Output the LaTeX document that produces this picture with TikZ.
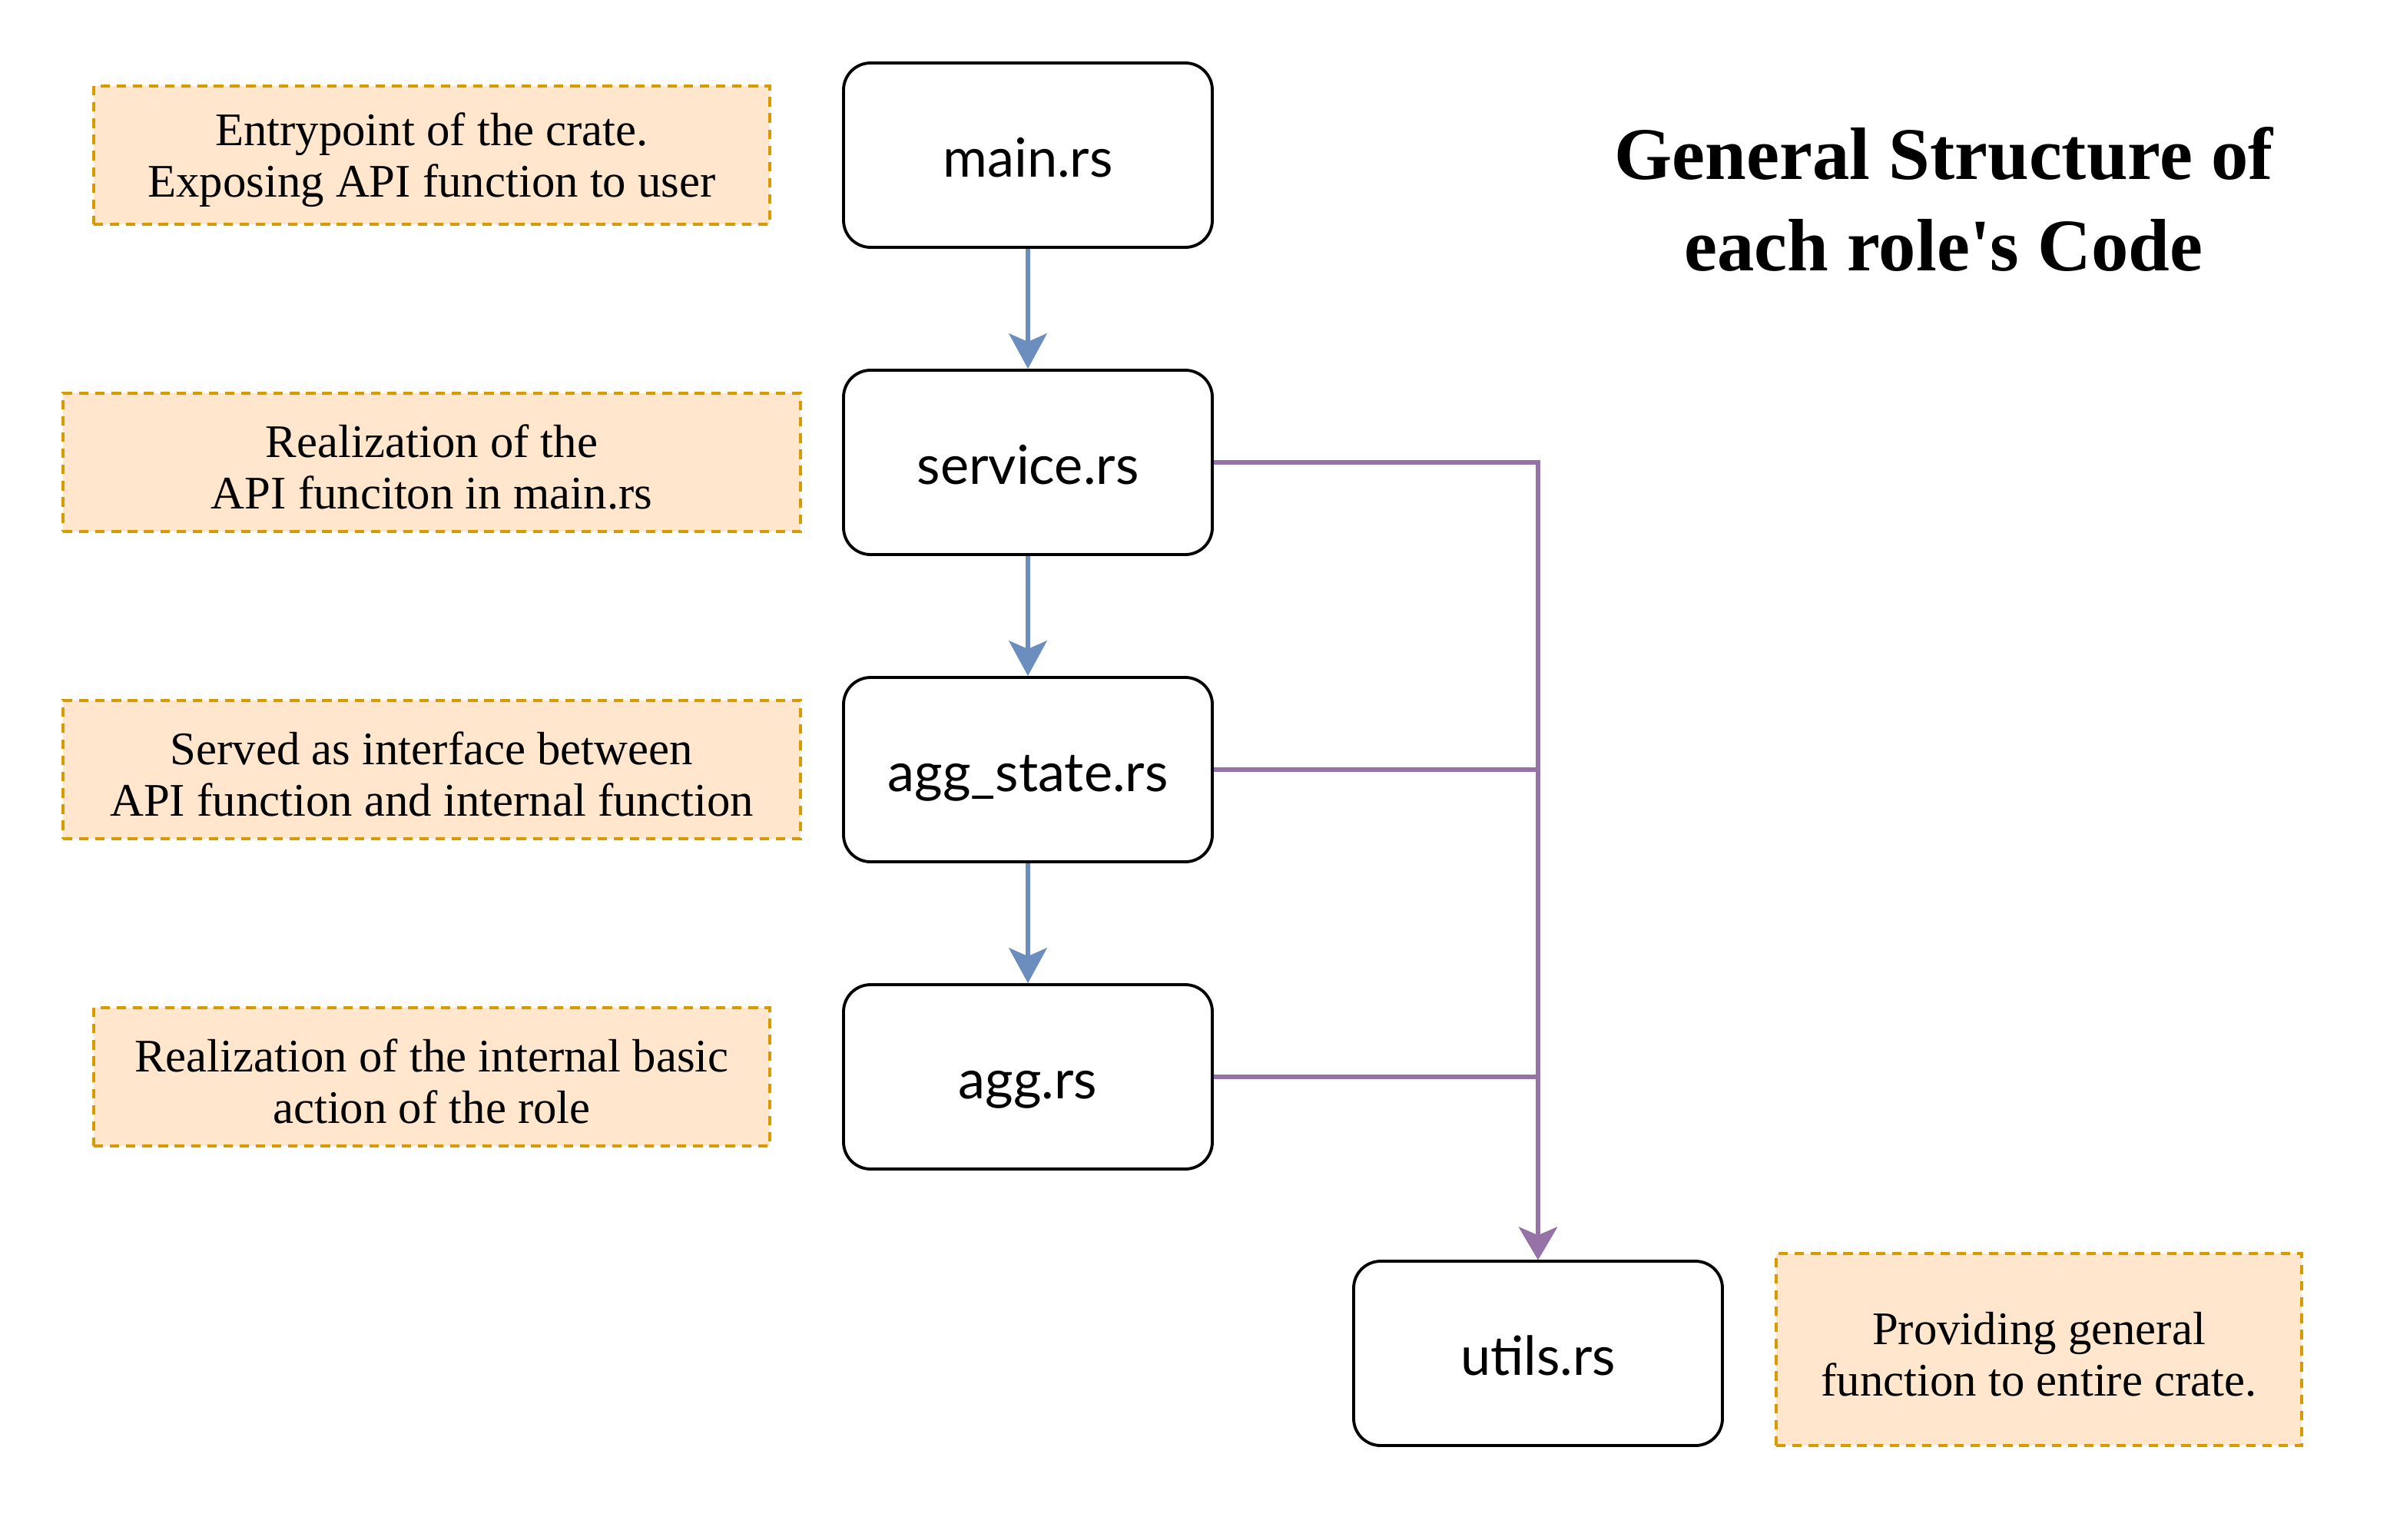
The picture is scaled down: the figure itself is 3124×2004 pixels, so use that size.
\documentclass[tikz,border=0pt]{standalone}
\usepackage{fontspec}
\setmainfont{Liberation Serif}
\newfontfamily\boxfont{Lato}
\usetikzlibrary{arrows.meta}
\newlength\pxu \setlength\pxu{0.2mm}
\newcommand\notestrut{\rule{0pt}{31pt}}
\definecolor{notefill}{HTML}{FFE6CC}
\definecolor{noteline}{HTML}{D79B00}
\definecolor{blueline}{HTML}{6C8EBF}
\definecolor{purpleline}{HTML}{9673A6}
\begin{document}
\begin{tikzpicture}[x=0.2mm,y=-0.2mm,
  filebox/.style={draw=black, line width=2.2pt, rounded corners=20pt, fill=white,
    minimum width=480\pxu, minimum height=240\pxu, inner sep=0pt,
    text height=40pt, text depth=8pt,
    font=\boxfont\fontsize{40}{44}\selectfont},
  note/.style={draw=noteline, fill=notefill, line width=1.8pt, dash pattern=on 7pt off 5pt,
    minimum height=180\pxu, inner sep=0pt, align=center,
    font=\fontsize{34.6}{38}\selectfont},
  flow/.style={draw=blueline, line width=3.8pt, -{Stealth[length=26pt,width=28pt,inset=6pt]}},
  util/.style={draw=purpleline, line width=3.4pt, -{Stealth[length=24pt,width=28pt,inset=6pt]}},
  titletext/.style={font=\bfseries\fontsize{55}{70}\selectfont, anchor=base, inner sep=0pt}
]
\useasboundingbox[fill=white] (0,0) rectangle (3124,2004);

% file nodes
\node[filebox] (main) at (1338,202) {main.rs};
\node[filebox] (service) at (1338,602) {service.rs};
\node[filebox] (aggstate) at (1338,1002) {agg\_state.rs};
\node[filebox] (agg) at (1338,1402) {agg.rs};
\node[filebox] (utils) at (2002,1762) {utils.rs};

% notes
\node[note, minimum width=880\pxu] (n1) at (562,202) {\notestrut Entrypoint of the crate.\\Exposing API function to user};
\node[note, minimum width=960\pxu] (n2) at (562,602) {\notestrut Realization of the\\API funciton in main.rs};
\node[note, minimum width=960\pxu] (n3) at (562,1002) {\notestrut Served as interface between\\API function and internal function};
\node[note, minimum width=880\pxu] (n4) at (562,1402) {\notestrut Realization of the internal basic\\action of the role};
\node[note, minimum width=684\pxu, minimum height=250\pxu] (n5) at (2654,1757) {\notestrut Providing general\\function to entire crate.};

% title
\node[titletext] (title1) at (2530,233) {General Structure of};
\node[titletext] (title2) at (2530,352) {each role\textquotesingle s Code};

% connectors
\draw[flow] (main) -- (service);
\draw[flow] (service) -- (aggstate);
\draw[flow] (aggstate) -- (agg);
\draw[util] (service.east) -| (utils.north);
\draw[util] (aggstate.east) -| (utils.north);
\draw[util] (agg.east) -| (utils.north);
\end{tikzpicture}
\end{document}
